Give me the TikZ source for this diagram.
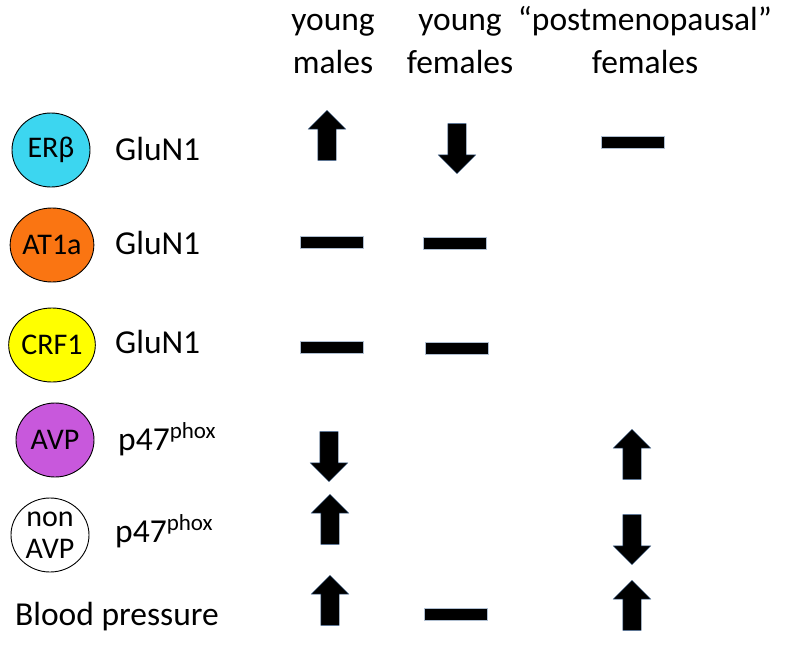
\documentclass[tikz,border=0pt]{standalone}
\usepackage{fontspec}
\setmainfont{Carlito}
\usetikzlibrary{shapes.geometric, shapes.arrows}

\definecolor{erbcol}{RGB}{60,214,240}
\definecolor{atcol}{RGB}{250,117,18}
\definecolor{crfcol}{RGB}{255,255,0}
\definecolor{avpcol}{RGB}{200,88,220}
\definecolor{edgecol}{RGB}{56,93,138}

\newcommand{\bigtxt}{\fontsize{33.5}{43}\selectfont}
\newcommand{\lbltxt}{\fontsize{30}{32}\selectfont}
\newcommand{\phox}{p47\raisebox{12pt}{\fontsize{23}{23}\selectfont phox}}

\tikzset{
  hdr/.style = {font=\bigtxt, align=center, inner sep=0pt},
  gene/.style = {font=\bigtxt, inner sep=0pt, anchor=base west},
  recep/.style = {ellipse, draw, line width=0.9pt, minimum width=78pt, minimum height=74pt, inner sep=0pt, font=\lbltxt, align=center},
  nochange/.style = {rectangle, fill=black, draw=edgecol!40, line width=0.3pt, minimum width=63pt, minimum height=12pt, inner sep=0pt},
  fatarrow/.style = {single arrow, fill=black, draw=edgecol, line width=0.4pt, minimum height=50pt, minimum width=37pt, inner xsep=0pt, inner ysep=9pt, single arrow head extend=9.5pt},
  upar/.style = {fatarrow, rotate=90},
  downar/.style = {fatarrow, rotate=-90},
}

\begin{document}
\begin{tikzpicture}[x=1pt, y=-1pt]
\useasboundingbox (0,0) rectangle (800,648);

% column heads
\node[hdr, anchor=base] (ymale) at (333,73) {young\\males};
\node[hdr, anchor=base] (yfem) at (460,73) {young\\females};
\node[hdr, anchor=base] (pmfem) at (645,73) {“postmenopausal”\\females};

% receptor circles
\node[recep, fill=erbcol] (erb) at (51,150) {ERβ};
\node[recep, fill=atcol] (at1a) at (52,245) {AT1a};
\node[recep, fill=crfcol] (crf) at (52,345) {CRF1};
\node[recep, fill=avpcol] (avp) at (55,440) {AVP};
\node[recep, fill=white] (navp) at (50,535) {non\\AVP};

% measured proteins
\node[gene] (glu1) at (115,160) {GluN1};
\node[gene] (glu2) at (115,254) {GluN1};
\node[gene] (glu3) at (115,353) {GluN1};
\node[gene] (p47a) at (118,450) {\phox};
\node[gene] (p47b) at (115,542) {\phox};
\node[gene] (bp) at (15,625) {Blood pressure};

% changes
\node[upar] (erb-ym) at (327,140) {};
\node[downar] (erb-yf) at (457,144) {};
\node[nochange] (erb-pm) at (633,142) {};

\node[nochange] (at1a-ym) at (332,242) {};
\node[nochange] (at1a-yf) at (455,243) {};

\node[nochange] (crf-ym) at (332,347) {};
\node[nochange] (crf-yf) at (457,348) {};

\node[downar] (avp-ym) at (329,452) {};
\node[upar] (avp-pm) at (632,459) {};

\node[upar] (navp-ym) at (330,524) {};
\node[downar] (navp-pm) at (632,535) {};

\node[upar] (bp-ym) at (330,605) {};
\node[nochange] (bp-yf) at (456,614) {};
\node[upar] (bp-pm) at (632,610) {};
\end{tikzpicture}
\end{document}
